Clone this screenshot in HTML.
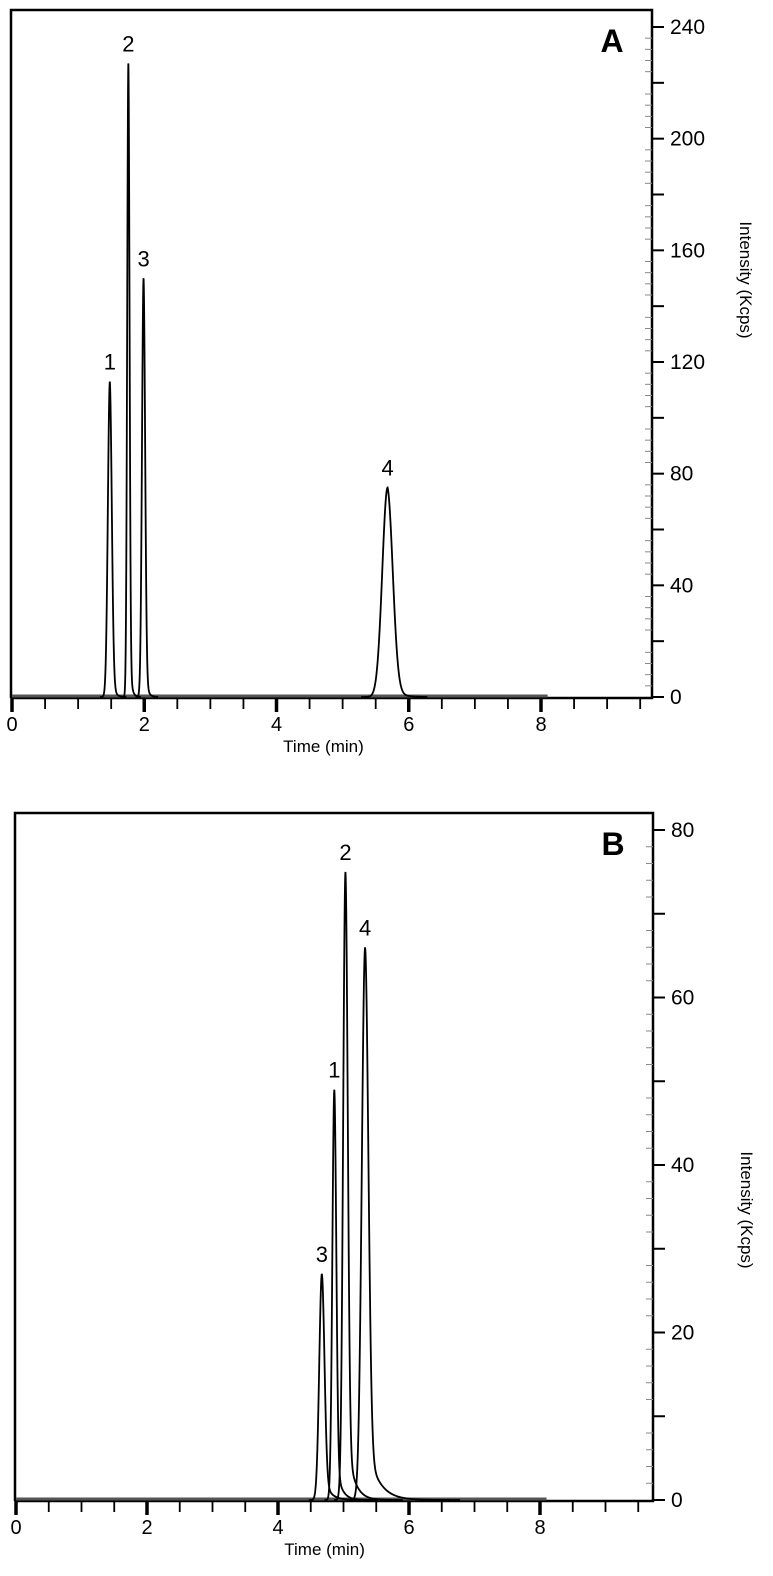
<!DOCTYPE html>
<html><head><meta charset="utf-8">
<style>
html,body{margin:0;padding:0;background:#fff;}
svg{display:block;font-family:"Liberation Sans",Arial,sans-serif;}
</style></head>
<body>
<svg id="chart" width="773" height="1576" viewBox="0 0 773 1576"></svg>
<script>
// Panel A data
const aLabels = ["1","2","3","4"];
const aTimes = [1.48, 1.76, 1.99, 5.68];
const aHeights = [113, 227, 150, 75];
const aWidths = [0.03, 0.018, 0.024, 0.08];
const aTails = [0.01, 0.01, 0.01, 0.02];
const aYTicks = [0, 40, 80, 120, 160, 200, 240];
const aXTicks = [0, 2, 4, 6, 8];
// Panel B data
const bLabels = ["3","1","2","4"];
const bTimes = [4.67, 4.86, 5.03, 5.33];
const bHeights = [27, 49, 75, 66];
const bWidths = [0.04, 0.03, 0.035, 0.05];
const bTails = [0.06, 0.05, 0.07, 0.12];
const bYTicks = [0, 20, 40, 60, 80];
const bXTicks = [0, 2, 4, 6, 8];

const NS = "http://www.w3.org/2000/svg";
const svg = document.getElementById("chart");
function mk(tag, attrs, parent){
  const e = document.createElementNS(NS, tag);
  for (const k in attrs) e.setAttribute(k, attrs[k]);
  (parent||svg).appendChild(e);
  return e;
}
function panel(cfg){
  const g = mk("g", {});
  
  
  const X = t => cfg.x0 + t * (cfg.x8 - cfg.x0) / 8;
  const Y = v => cfg.y0 - v * (cfg.y0 - cfg.yTop) / cfg.yMax;
  const fr = mk("path", {d:`M${cfg.left} ${cfg.axisY} V${cfg.top} H${cfg.right} V${cfg.axisY} H${cfg.left}`, fill:"none", stroke:"#000", "stroke-width":2.5}, g);
  
  
  const bl = mk("line", {x1:X(0), x2:X(8.1), y1:cfg.axisY-2, y2:cfg.axisY-2, stroke:"#555", "stroke-width":3}, g);
  
  
  for (let t = 0; t <= 9.5; t += 0.5){
    const major = Math.abs(t % 2) < 1e-9;
    const ln = mk("line", {x1:X(t), x2:X(t), y1:cfg.axisY, y2:cfg.axisY + (major?14:11), stroke:"#000", "stroke-width": major?3.5:1.8}, g);
    
    
  }
  cfg.xTicks.forEach(t => {
    const tx = mk("text", {x:X(t), y:cfg.axisY+33, "text-anchor":"middle", "font-size":20}, g);
    tx.textContent = t;
    
    
  });
  const xt = mk("text", {x:(X(3.9)+X(5.4))/2 + 4, y:cfg.axisY+54, "text-anchor":"middle", "font-size":17}, g);
  xt.textContent = "Time (min)";
  
  
  const step = cfg.yTicks[1] - cfg.yTicks[0];
  for (let v = 0; v <= cfg.yMax + 1e-9; v += step/10){
    const r = v/step;
    const major = Math.abs(r - Math.round(r)) < 1e-6;
    const mid = Math.abs(r*2 - Math.round(r*2)) < 1e-6;
    const ln = mk("line", {x1:cfg.right - ((major||mid)?0:7), x2:cfg.right + (major?12:(mid?12:0)), y1:Y(v), y2:Y(v), stroke:(major||mid)?"#000":"#888", "stroke-width": (major||mid)?2:1}, g);
    
    
  }
  cfg.yTicks.forEach(v => {
    const tx = mk("text", {x:cfg.right+18, y:Y(v)+7, "font-size":21}, g);
    tx.textContent = v;
    
    
  });
  const yt = mk("text", {transform:`translate(${cfg.right+88},${cfg.yTitleY}) rotate(90)`, "text-anchor":"middle", "font-size":17}, g);
  yt.textContent = "Intensity (Kcps)";
  
  
  const pl = mk("text", {x:cfg.right-40, y:cfg.top+42, "font-size":32, "font-weight":"bold", "text-anchor":"middle"}, g);
  pl.textContent = cfg.letter;
  
  
  cfg.times.forEach((t0, i) => {
    const h = cfg.heights[i], w = cfg.widths[i], tau = cfg.tails[i];
    let d = "";
    const t1 = t0 - 5*w, t2 = t0 + 5*w + 10*tau;
    for (let t = t1; t <= t2; t += (t2-t1)/300){
      const dd = t - t0;
      let v;
      if (dd <= 0) v = h*Math.exp(-dd*dd/(2*w*w));
      else v = h*(0.88*Math.exp(-dd*dd/(2*w*w)) + 0.12*Math.exp(-dd/(w+tau)));
      v = Math.min(v, h);
      d += (d ? "L" : "M") + X(t).toFixed(2) + " " + Y(v).toFixed(2);
    }
    const p = mk("path", {d, fill:"none", stroke:"#000", "stroke-width":1.8}, g);
    
    
    const lb = mk("text", {x:X(t0), y:Y(h)-12, "text-anchor":"middle", "font-size":22}, g);
    lb.textContent = cfg.labels[i];
    
    
  });
}
panel({name:"panel-a", letter:"A", left:11, right:652, top:10, axisY:698,
  x0:12, x8:541, y0:697, yTop:27, yMax:240, yTitleY:280,
  times:aTimes, heights:aHeights, widths:aWidths, tails:aTails, labels:aLabels,
  yTicks:aYTicks, xTicks:aXTicks});
panel({name:"panel-b", letter:"B", left:15, right:653, top:813, axisY:1501,
  x0:16, x8:540, y0:1500, yTop:830, yMax:80, yTitleY:1210,
  times:bTimes, heights:bHeights, widths:bWidths, tails:bTails, labels:bLabels,
  yTicks:bYTicks, xTicks:bXTicks});
</script>
</body></html>
